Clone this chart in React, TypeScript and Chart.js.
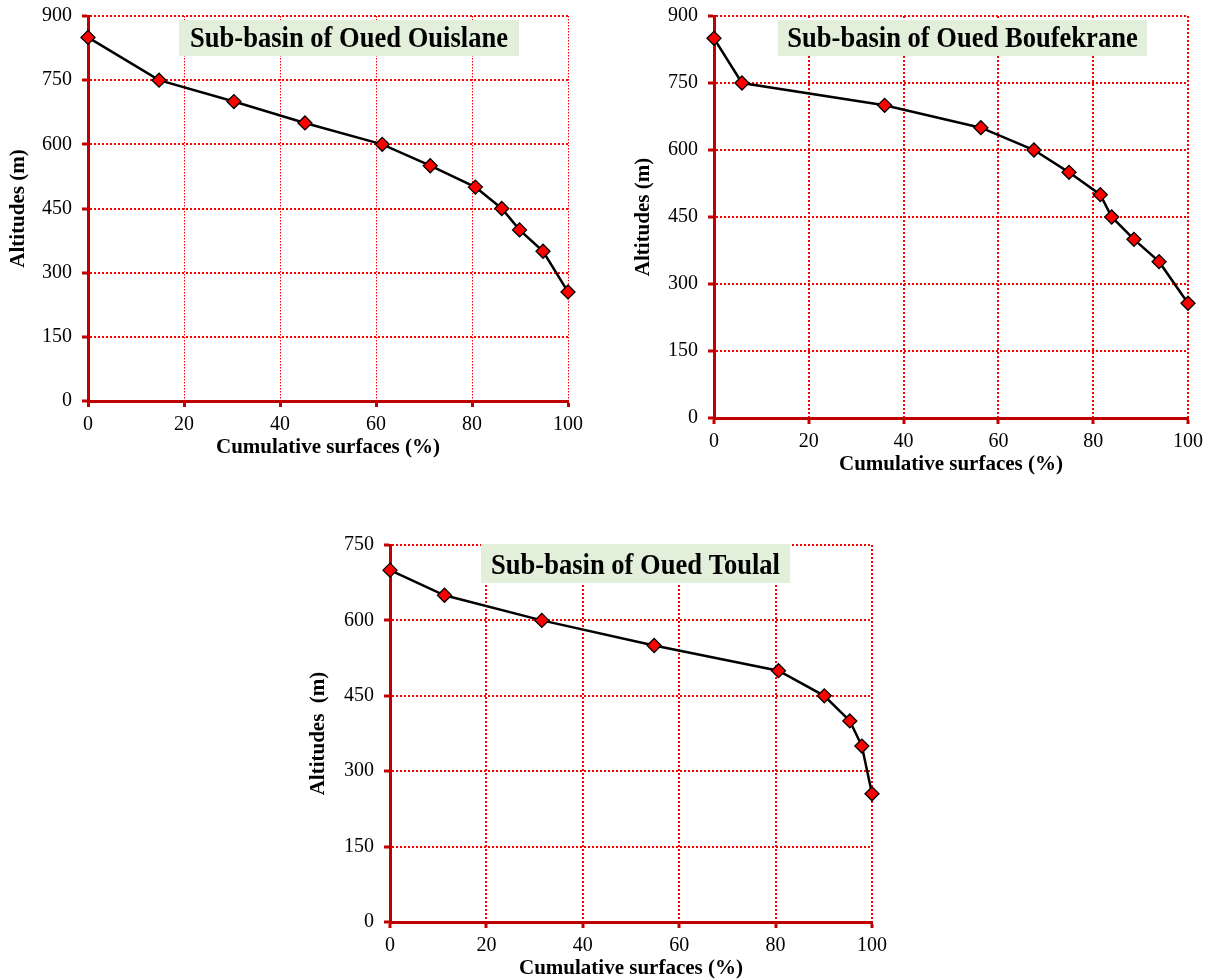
import React, { useEffect, useRef } from "react";
import { Chart, registerables } from "chart.js";

Chart.register(...registerables);

// ---- Data ----
const surfaceTicks = [0, 20, 40, 60, 80, 100];
const altitudeTicksTop = [0, 150, 300, 450, 600, 750, 900];
const altitudeTicksBottom = [0, 150, 300, 450, 600, 750];

const ouislaneSurface = [0, 14.8, 30.4, 45.2, 61.3, 71.3, 80.7, 86.2, 89.9, 94.8, 100];
const ouislaneAltitude = [850, 750, 700, 650, 600, 550, 500, 450, 400, 350, 255];

const boufekraneSurface = [0, 5.9, 36.0, 56.3, 67.5, 74.9, 81.5, 83.9, 88.6, 93.9, 100];
const boufekraneAltitude = [850, 750, 700, 650, 600, 550, 500, 450, 400, 350, 257];

const toulalSurface = [0, 11.3, 31.5, 54.8, 80.6, 90.1, 95.4, 97.9, 100];
const toulalAltitude = [700, 650, 600, 550, 500, 450, 400, 350, 255];

const titles = ["Sub-basin of Oued Ouislane", "Sub-basin of Oued Boufekrane", "Sub-basin of Oued Toulal"];
const xTitle = "Cumulative surfaces (%)";
const yTitles = ["Altitudes (m)", "Altitudes (m)", "Altitudes  (m)"];

// ---- Styles ----
const FONT = "'Liberation Serif', 'Times New Roman', Times, serif";
const AXIS_RED = "#c00000";
const GRID_RED = "#ff0000";

const titleBoxPlugin = {
  id: "titleBox",
  beforeDatasetsDraw(chart: any, _args: any, opts: any) {
    if (!opts || !opts.text) return;
    const { ctx, chartArea } = chart;
    const x = chartArea.left + opts.left;
    const y = chartArea.top + opts.top;
    ctx.save();
    ctx.fillStyle = "#e2efda";
    ctx.fillRect(x, y, opts.width, opts.height);
    ctx.font = `bold 30px ${FONT}`;
    ctx.fillStyle = "#000";
    ctx.textAlign = "center";
    ctx.textBaseline = "alphabetic";
    const w = ctx.measureText(opts.text).width;
    ctx.fillText(opts.text, x + opts.width / 2, y + opts.height - 9.5, w * 0.885);
    ctx.restore();
  },
};

type Spec = {
  surface: number[];
  altitude: number[];
  altTicks: number[];
  title: string;
  yTitle: string;
  box: { left: number; top: number; width: number; height: number };
  yWidth: number;
  xHeight: number;
  padTop: number;
  padRight: number;
  vGridWidth: number;
  vGridDash: number[];
  xTitlePadBottom: number;
};

function makeConfig(s: Spec): any {
  return {
    type: "line",
    data: {
      datasets: [
        {
          data: s.surface.map((x, i) => ({ x, y: s.altitude[i] })),
          borderColor: "#000",
          borderWidth: 2.5,
          tension: 0,
          pointStyle: "rectRot",
          pointRadius: 7,
          pointHoverRadius: 7,
          pointBackgroundColor: "#ff0000",
          pointBorderColor: "#000",
          pointBorderWidth: 1.3,
          clip: false,
        },
      ],
    },
    options: {
      responsive: false,
      animation: false,
      events: [],
      layout: { autoPadding: false, padding: { top: s.padTop, right: s.padRight, left: 0, bottom: 0 } },
      plugins: {
        legend: { display: false },
        tooltip: { enabled: false },
        titleBox: { text: s.title, ...s.box },
      },
      scales: {
        x: {
          type: "linear",
          min: surfaceTicks[0],
          max: surfaceTicks[surfaceTicks.length - 1],
          ticks: {
            stepSize: surfaceTicks[1] - surfaceTicks[0],
            autoSkip: false,
            maxRotation: 0,
            padding: 6,
            color: "#000",
            font: { family: FONT, size: 20 },
          },
          grid: {
            color: GRID_RED,
            lineWidth: s.vGridWidth,
            tickColor: AXIS_RED,
            tickWidth: 3,
            tickLength: 6,
            tickBorderDash: [],
          },
          border: { color: AXIS_RED, width: 3, dash: s.vGridDash },
          title: {
            display: true,
            text: xTitle,
            color: "#000",
            font: { family: FONT, size: 21, weight: "bold" },
            padding: { top: 0, bottom: s.xTitlePadBottom },
          },
          afterFit: (scale: any) => {
            scale.height = s.xHeight;
            scale.paddingLeft = 0;
            scale.paddingRight = 16;
          },
        },
        y: {
          type: "linear",
          min: s.altTicks[0],
          max: s.altTicks[s.altTicks.length - 1],
          ticks: {
            stepSize: s.altTicks[1] - s.altTicks[0],
            autoSkip: false,
            padding: 10,
            color: "#000",
            font: { family: FONT, size: 20 },
          },
          grid: {
            color: GRID_RED,
            lineWidth: 2,
            tickColor: AXIS_RED,
            tickWidth: 3,
            tickLength: 6,
            tickBorderDash: [],
          },
          border: { color: AXIS_RED, width: 3, dash: [2, 2] },
          title: {
            display: true,
            text: s.yTitle,
            color: "#000",
            font: { family: FONT, size: 21, weight: "bold" },
            padding: { top: 6, bottom: 0 },
          },
          afterFit: (scale: any) => {
            scale.width = s.yWidth;
            scale.paddingTop = 12;
            scale.paddingBottom = 12;
          },
        },
      },
    },
    plugins: [titleBoxPlugin],
  };
}

function ChartBox(props: { spec: Spec; left: number; top: number; width: number; height: number }) {
  const ref = useRef<HTMLCanvasElement | null>(null);
  useEffect(() => {
    if (!ref.current) return;
    const chart = new Chart(ref.current, makeConfig(props.spec));
    return () => chart.destroy();
  }, []);
  return (
    <canvas
      ref={ref}
      width={props.width}
      height={props.height}
      style={{
        position: "absolute",
        left: props.left,
        top: props.top,
        width: props.width,
        height: props.height,
      }}
    />
  );
}

const spec1: Spec = {
  surface: ouislaneSurface,
  altitude: ouislaneAltitude,
  altTicks: altitudeTicksTop,
  title: titles[0],
  yTitle: yTitles[0],
  box: { left: 91, top: 4, width: 340, height: 36 },
  yWidth: 88,
  xHeight: 62,
  padTop: 16,
  padRight: 32,
  vGridWidth: 1,
  vGridDash: [1.5, 1.5],
  xTitlePadBottom: 3,
};

const spec2: Spec = {
  surface: boufekraneSurface,
  altitude: boufekraneAltitude,
  altTicks: altitudeTicksTop,
  title: titles[1],
  yTitle: yTitles[1],
  box: { left: 64, top: 4, width: 369, height: 36 },
  yWidth: 89,
  xHeight: 62,
  padTop: 16,
  padRight: 23,
  vGridWidth: 2,
  vGridDash: [2, 2],
  xTitlePadBottom: 3,
};

const spec3: Spec = {
  surface: toulalSurface,
  altitude: toulalAltitude,
  altTicks: altitudeTicksBottom,
  title: titles[2],
  yTitle: yTitles[2],
  box: { left: 91, top: -1, width: 309, height: 39 },
  yWidth: 90,
  xHeight: 62,
  padTop: 25,
  padRight: 28,
  vGridWidth: 2,
  vGridDash: [2, 2],
  xTitlePadBottom: 3,
};

export default function App() {
  return (
    <div
      style={{
        position: "absolute",
        left: 0,
        top: 0,
        width: 1211,
        height: 980,
        overflow: "hidden",
        background: "#fff",
      }}
    >
      <ChartBox spec={spec1} left={0} top={0} width={600} height={463} />
      <ChartBox spec={spec2} left={625} top={0} width={586} height={480} />
      <ChartBox spec={spec3} left={300} top={520} width={600} height={464} />
    </div>
  );
}
